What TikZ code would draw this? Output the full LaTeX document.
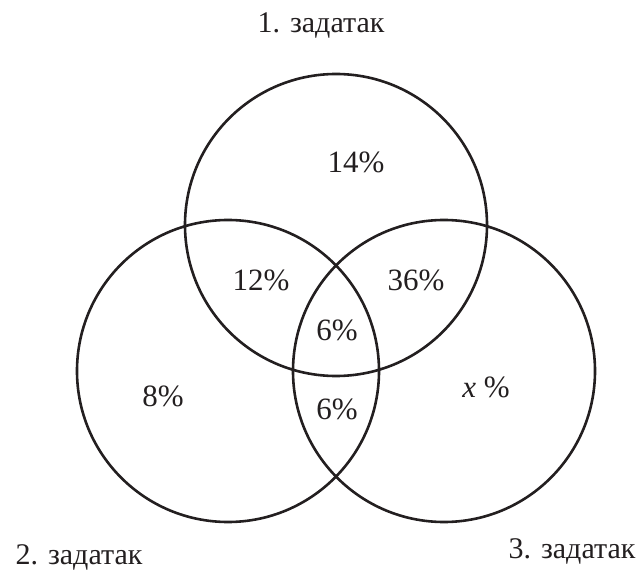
\documentclass[tikz,border=0pt]{standalone}
\usepackage{fontspec}
\setmainfont{Liberation Serif}
\definecolor{ink}{HTML}{231F20}
\tikzset{
  ring/.style={draw=ink, line width=2.6pt},
  pct/.style={text=ink, font=\fontsize{31}{33}\selectfont, inner sep=0pt},
  setlabel/.style={text=ink, font=\fontsize{30}{32}\selectfont, inner sep=0pt}
}
\begin{document}
\begin{tikzpicture}[x=1pt,y=-1pt]
\useasboundingbox (0,0) rectangle (643,572);
\coordinate (c1) at (336,225);
\coordinate (c2) at (228,371);
\coordinate (c3) at (444,371);
\draw[ring] (c1) circle[radius=151];
\draw[ring] (c2) circle[radius=151];
\draw[ring] (c3) circle[radius=151];
\node[setlabel] (l1) at (321,26) {1. задатак};
\node[setlabel] (l2) at (79,557) {2. задатак};
\node[setlabel] (l3) at (572,551) {3. задатак};
\node[pct] (p14) at (356,162) {14\%};
\node[pct] (p12) at (261,280) {12\%};
\node[pct] (p36) at (416,280) {36\%};
\node[pct] (p6a) at (337,330) {6\%};
\node[pct] (p8) at (163,396) {8\%};
\node[pct] (p6b) at (337,409) {6\%};
\node[pct] (px) at (486,387) {\textit{x} \%};
\end{tikzpicture}
\end{document}
